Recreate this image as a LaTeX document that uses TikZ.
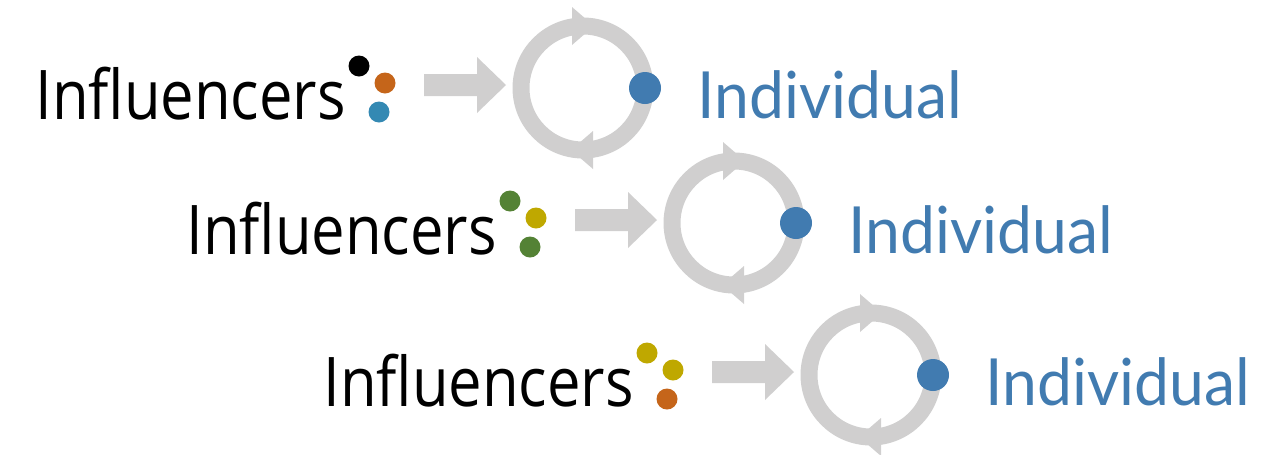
\documentclass[tikz,border=0pt]{standalone}
\usepackage{fontspec}
\newfontfamily\inflfont[FakeStretch=0.872]{Open Sans}
\newfontfamily\indivfont[FakeStretch=0.96]{Lato}
\definecolor{ringgray}{RGB}{208,207,207}
\definecolor{indblue}{RGB}{65,123,176}
\definecolor{rust}{RGB}{197,101,26}
\definecolor{teal}{RGB}{52,137,179}
\definecolor{leaf}{RGB}{84,130,53}
\definecolor{mustard}{RGB}{191,168,0}
\begin{document}
\begin{tikzpicture}[x=.02cm,y=-.02cm,
    ring/.style={draw=ringgray,line width=.34cm},
    dot/.style={circle,inner sep=0pt,minimum size=.42cm},
    hubdot/.style={circle,inner sep=0pt,minimum size=.64cm,fill=indblue},
    word/.style={anchor=base west,inner sep=0pt}]
  \useasboundingbox (0,0) rectangle (1274,454);
  \foreach \dx/\dy/\ca/\cb/\cc [count=\r] in {
    0/0/black/rust/teal,
    151/135/leaf/mustard/leaf,
    288/287/mustard/mustard/rust} {
    \begin{scope}[shift={(\dx,\dy)}]
      \node[word,font=\inflfont\fontsize{39}{39}\selectfont] (infl\r) at (35,119) {Influencers};
      \node[dot,fill=\ca] (da\r) at (359,66) {};
      \node[dot,fill=\cb] (db\r) at (385,83) {};
      \node[dot,fill=\cc] (dc\r) at (379,112) {};
      % block arrow
      \fill[ringgray] (424,74) -- (477,74) -- (477,57) -- (506,85)
        -- (477,113) -- (477,96) -- (424,96) -- cycle;
      % cycle with two heads
      \coordinate (hub\r) at (583,88);
      \draw[ring] (hub\r) circle[radius=62];
      \fill[ringgray] (572,7) -- (594,26) -- (572,45) -- cycle;
      \fill[ringgray] (593,131) -- (571,150) -- (593,169) -- cycle;
      \node[hubdot] (me\r) at (645,88) {};
      \node[word,text=indblue,font=\indivfont\fontsize{37}{37}\selectfont] (indiv\r) at (697,118) {Individual};
    \end{scope}
  }
\end{tikzpicture}
\end{document}
